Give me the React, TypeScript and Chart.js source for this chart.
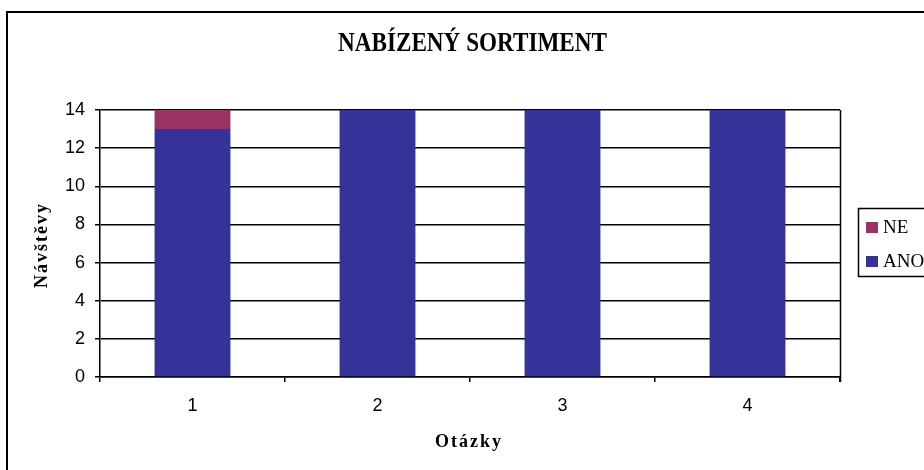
import React, { useEffect, useRef } from "react";
import { Chart, registerables } from "chart.js";

Chart.register(...registerables);

const categories = ["1", "2", "3", "4"];
const anoValues = [13, 14, 14, 14];
const neValues = [1, 0, 0, 0];
const seriesNames = ["ANO", "NE"];
const titleText = "NABÍZENÝ SORTIMENT";
const xTitleText = "Otázky";
const yTitleText = "Návštěvy";
const yMin = 0;
const yMax = 14;
const yStep = 2;

const ANO_COLOR = "#333399";
const NE_COLOR = "#993366";

const decorPlugin = {
  id: "decor",
  afterDraw(chart: any) {
    const ctx = chart.ctx as CanvasRenderingContext2D;
    const area = chart.chartArea;
    ctx.save();
    // outer frame
    ctx.strokeStyle = "#000";
    ctx.lineWidth = 2;
    ctx.strokeRect(7, 12, 1200, 1200);
    // plot right border
    ctx.lineWidth = 1.5;
    ctx.beginPath();
    ctx.moveTo(Math.round(area.right) + 0.5, area.top);
    ctx.lineTo(Math.round(area.right) + 0.5, area.bottom + 5);
    ctx.stroke();

    ctx.fillStyle = "#000";
    // title
    ctx.font = 'bold 27px "Liberation Serif"';
    ctx.textAlign = "center";
    ctx.textBaseline = "middle";
    const tw = ctx.measureText(titleText).width;
    ctx.save();
    ctx.translate(472.5, 44);
    ctx.scale(269 / tw, 1);
    ctx.fillText(titleText, 0, 0);
    ctx.restore();

    // x title
    ctx.font = 'bold 18px "Liberation Serif"';
    (ctx as any).letterSpacing = "2px";
    ctx.fillText(xTitleText, 469, 442);

    // y title
    ctx.save();
    ctx.translate(42, 245);
    ctx.rotate(-Math.PI / 2);
    ctx.fillText(yTitleText, 0, 0);
    ctx.restore();
    (ctx as any).letterSpacing = "0px";

    // legend
    ctx.lineWidth = 1.5;
    ctx.strokeRect(858.5, 208.5, 200, 68);
    const legendItems = [
      { name: seriesNames[1], color: NE_COLOR, y: 228 },
      { name: seriesNames[0], color: ANO_COLOR, y: 262 },
    ];
    ctx.font = '19px "Liberation Serif"';
    ctx.textAlign = "left";
    for (const it of legendItems) {
      ctx.fillStyle = it.color;
      ctx.fillRect(866, it.y - 6, 12, 11);
      ctx.fillStyle = "#000";
      ctx.fillText(it.name, 883, it.y);
    }
    ctx.restore();
  },
};

export default function App() {
  const ref = useRef<HTMLCanvasElement | null>(null);
  useEffect(() => {
    if (!ref.current) return;
    const chart = new Chart(ref.current, {
      type: "bar",
      data: {
        labels: categories,
        datasets: [
          {
            label: seriesNames[0],
            data: anoValues,
            backgroundColor: ANO_COLOR,
            barPercentage: 0.41,
            categoryPercentage: 1,
          },
          {
            label: seriesNames[1],
            data: neValues,
            backgroundColor: NE_COLOR,
            barPercentage: 0.41,
            categoryPercentage: 1,
          },
        ],
      },
      options: {
        responsive: false,
        animation: false,
        devicePixelRatio: 1,
        layout: { padding: { top: 110, right: 84, left: 0, bottom: 0 } },
        plugins: {
          legend: { display: false },
          title: { display: false },
          tooltip: { enabled: false },
        },
        scales: {
          x: {
            stacked: true,
            grid: {
              offset: true,
              drawOnChartArea: false,
              drawTicks: true,
              tickLength: 5,
              color: "#000",
              lineWidth: 1.5,
            },
            border: { color: "#000", width: 1.5 },
            ticks: {
              color: "#000",
              font: { family: '"Liberation Sans"', size: 18 },
              padding: 13,
            },
            afterFit: (s: any) => {
              s.height = 93;
            },
          },
          y: {
            stacked: true,
            min: yMin,
            max: yMax,
            ticks: {
              stepSize: yStep,
              color: "#000",
              font: { family: '"Liberation Sans"', size: 18 },
              padding: 10,
            },
            grid: { color: "#000", tickLength: 5, lineWidth: 1.5 },
            border: { color: "#000", width: 1.5 },
            afterFit: (s: any) => {
              s.width = 100;
            },
          },
        },
      },
      plugins: [decorPlugin],
    });
    return () => chart.destroy();
  }, []);
  return (
    <div style={{ position: "absolute", left: 0, top: 0, width: 924, height: 470, background: "#fff" }}>
      <canvas ref={ref} width={924} height={470} />
    </div>
  );
}
